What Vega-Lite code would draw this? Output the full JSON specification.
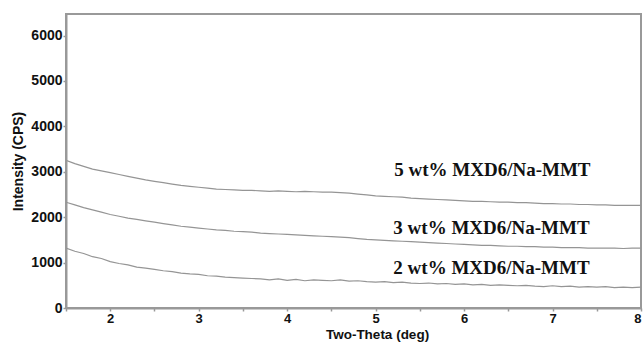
{
  "$schema": "https://vega.github.io/schema/vega-lite/v6.json",
  "autosize": "none",
  "width": 575,
  "height": 294,
  "padding": {"left": 66, "top": 14, "right": 3, "bottom": 34},
  "background": "white",
  "config": {
    "view": {"stroke": "#999999", "strokeWidth": 2},
    "axis": {"labelFont": "Liberation Sans", "titleFont": "Liberation Sans", "labelFontWeight": "bold", "titleFontWeight": "bold", "labelFontSize": 14, "titleFontSize": 14, "labelColor": "#111", "titleColor": "#111", "domainColor": "#999999", "domainWidth": 2, "tickColor": "#999999", "tickWidth": 1.5, "grid": false}
  },
  "datasets": {
    "xrd": [
      {"t":1.5,"c5":3250,"c3":2330,"c2":1320},
      {"t":1.6,"c5":3180,"c3":2270,"c2":1250},
      {"t":1.7,"c5":3120,"c3":2210,"c2":1200},
      {"t":1.8,"c5":3060,"c3":2160,"c2":1130},
      {"t":1.9,"c5":3020,"c3":2110,"c2":1090},
      {"t":2.0,"c5":2980,"c3":2060,"c2":1020},
      {"t":2.1,"c5":2940,"c3":2020,"c2":980},
      {"t":2.2,"c5":2900,"c3":1980,"c2":950},
      {"t":2.3,"c5":2860,"c3":1950,"c2":900},
      {"t":2.4,"c5":2820,"c3":1920,"c2":880},
      {"t":2.5,"c5":2790,"c3":1890,"c2":850},
      {"t":2.6,"c5":2760,"c3":1860,"c2":820},
      {"t":2.7,"c5":2730,"c3":1830,"c2":800},
      {"t":2.8,"c5":2700,"c3":1800,"c2":770},
      {"t":2.9,"c5":2680,"c3":1780,"c2":750},
      {"t":3.0,"c5":2660,"c3":1760,"c2":740},
      {"t":3.1,"c5":2640,"c3":1740,"c2":710},
      {"t":3.2,"c5":2620,"c3":1720,"c2":700},
      {"t":3.3,"c5":2610,"c3":1710,"c2":680},
      {"t":3.4,"c5":2600,"c3":1690,"c2":670},
      {"t":3.5,"c5":2590,"c3":1680,"c2":660},
      {"t":3.6,"c5":2590,"c3":1670,"c2":650},
      {"t":3.7,"c5":2580,"c3":1650,"c2":640},
      {"t":3.8,"c5":2570,"c3":1640,"c2":620},
      {"t":3.9,"c5":2580,"c3":1630,"c2":640},
      {"t":4.0,"c5":2570,"c3":1620,"c2":610},
      {"t":4.1,"c5":2560,"c3":1610,"c2":630},
      {"t":4.2,"c5":2570,"c3":1600,"c2":600},
      {"t":4.3,"c5":2560,"c3":1590,"c2":620},
      {"t":4.4,"c5":2550,"c3":1580,"c2":610},
      {"t":4.5,"c5":2550,"c3":1570,"c2":600},
      {"t":4.6,"c5":2540,"c3":1560,"c2":620},
      {"t":4.7,"c5":2530,"c3":1550,"c2":590},
      {"t":4.8,"c5":2510,"c3":1530,"c2":600},
      {"t":4.9,"c5":2490,"c3":1510,"c2":580},
      {"t":5.0,"c5":2470,"c3":1500,"c2":570},
      {"t":5.1,"c5":2460,"c3":1490,"c2":580},
      {"t":5.2,"c5":2450,"c3":1480,"c2":560},
      {"t":5.3,"c5":2440,"c3":1470,"c2":570},
      {"t":5.4,"c5":2420,"c3":1460,"c2":550},
      {"t":5.5,"c5":2410,"c3":1450,"c2":540},
      {"t":5.6,"c5":2400,"c3":1440,"c2":550},
      {"t":5.7,"c5":2390,"c3":1430,"c2":530},
      {"t":5.8,"c5":2380,"c3":1420,"c2":540},
      {"t":5.9,"c5":2370,"c3":1410,"c2":520},
      {"t":6.0,"c5":2360,"c3":1400,"c2":530},
      {"t":6.1,"c5":2350,"c3":1390,"c2":510},
      {"t":6.2,"c5":2350,"c3":1380,"c2":520},
      {"t":6.3,"c5":2340,"c3":1380,"c2":500},
      {"t":6.4,"c5":2330,"c3":1370,"c2":510},
      {"t":6.5,"c5":2330,"c3":1360,"c2":500},
      {"t":6.6,"c5":2320,"c3":1360,"c2":490},
      {"t":6.7,"c5":2320,"c3":1350,"c2":500},
      {"t":6.8,"c5":2310,"c3":1350,"c2":480},
      {"t":6.9,"c5":2300,"c3":1340,"c2":470},
      {"t":7.0,"c5":2300,"c3":1340,"c2":490},
      {"t":7.1,"c5":2290,"c3":1330,"c2":470},
      {"t":7.2,"c5":2290,"c3":1330,"c2":480},
      {"t":7.3,"c5":2280,"c3":1330,"c2":460},
      {"t":7.4,"c5":2280,"c3":1320,"c2":470},
      {"t":7.5,"c5":2270,"c3":1320,"c2":460},
      {"t":7.6,"c5":2270,"c3":1320,"c2":470},
      {"t":7.7,"c5":2260,"c3":1320,"c2":450},
      {"t":7.8,"c5":2260,"c3":1310,"c2":460},
      {"t":7.9,"c5":2260,"c3":1320,"c2":450},
      {"t":8.0,"c5":2260,"c3":1320,"c2":460}
    ],
    "labels": [
      {"lx":6.32,"ly":3040,"label":"5 wt% MXD6/Na-MMT"},
      {"lx":6.31,"ly":1770,"label":"3 wt% MXD6/Na-MMT"},
      {"lx":6.31,"ly":890,"label":"2 wt% MXD6/Na-MMT"}
    ]
  },
  "layer": [
    {
      "data": {"name": "xrd"},
      "transform": [{"fold": ["c5", "c3", "c2"], "as": ["series", "val"]}],
      "mark": {"type": "line", "color": "#959595", "strokeWidth": 1.2, "clip": true},
      "encoding": {
        "x": {"field": "t", "type": "quantitative", "scale": {"domain": [1.5, 8], "nice": false, "zero": false},
          "axis": {"title": "Two-Theta (deg)", "values": [1.5,2,2.5,3,3.5,4,4.5,5,5.5,6,6.5,7,7.5,8], "labelExpr": "datum.value % 1 === 0 ? format(datum.value, 'd') : ''", "tickSize": 3, "labelPadding": 1, "labelFontSize": 13, "titleFontSize": 13.5, "titleX": 311, "titleY": 30, "titleBaseline": "alphabetic"}},
        "y": {"field": "val", "type": "quantitative", "scale": {"domain": [0, 6475], "nice": false},
          "axis": {"title": "Intensity (CPS)", "values": [0,1000,2000,3000,4000,5000,6000], "format": "d", "tickSize": 3, "labelPadding": 1, "titlePadding": 5}},
        "detail": {"field": "series"}
      }
    },
    {
      "data": {"name": "labels"},
      "mark": {"type": "text", "font": "Liberation Serif", "fontWeight": "bold", "fontSize": 19, "color": "#111"},
      "encoding": {
        "x": {"field": "lx", "type": "quantitative"},
        "y": {"field": "ly", "type": "quantitative"},
        "text": {"field": "label"}
      }
    }
  ]
}
